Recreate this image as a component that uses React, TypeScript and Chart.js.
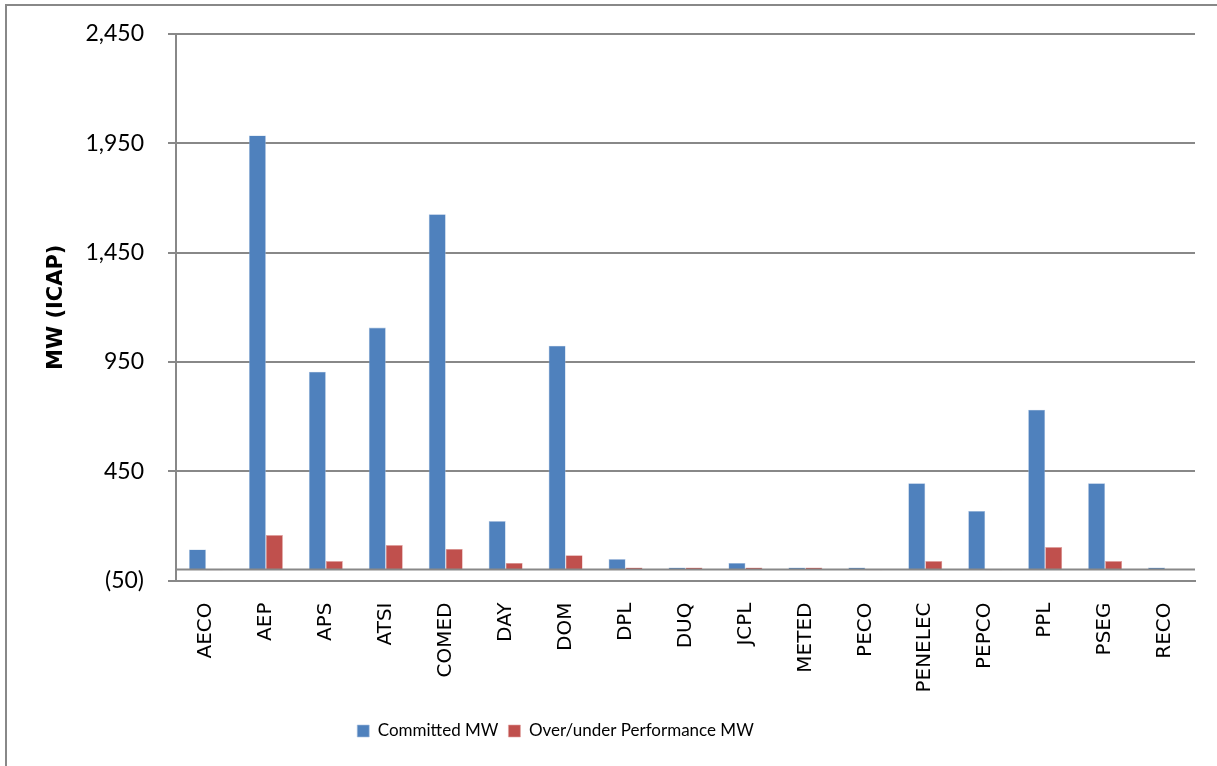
import React, { useEffect, useRef } from "react";
import { Chart, registerables } from "chart.js";

Chart.register(...registerables);

const categories = ["AECO", "AEP", "APS", "ATSI", "COMED", "DAY", "DOM", "DPL", "DUQ", "JCPL", "METED", "PECO", "PENELEC", "PEPCO", "PPL", "PSEG", "RECO"];
const committedMW = [92, 1986, 905, 1107, 1626, 222, 1024, 48, 10, 30, 10, 10, 395, 268, 731, 395, 10];
const overUnderMW = [-3, 158, 39, 112, 94, 30, 66, 10, 10, 10, 10, -3, 39, -3, 103, 39, -2];
const yTickValues = [-50, 450, 950, 1450, 1950, 2450];

const GRID = "#888888";

const fmt = (v: number) => {
  const s = Math.abs(v).toLocaleString("en-US");
  return v < 0 ? `(${s})` : s;
};

const decorPlugin = {
  id: "decor",
  beforeDraw(chart: any) {
    const ctx = chart.ctx;
    ctx.save();
    ctx.strokeStyle = GRID;
    ctx.lineWidth = 2;
    ctx.beginPath();
    ctx.moveTo(6, chart.height);
    ctx.lineTo(6, 5);
    ctx.lineTo(chart.width, 5);
    ctx.stroke();
    ctx.restore();
  },
  afterLayout(chart: any) {
    const lg = chart.legend;
    if (lg) {
      lg.left -= 42;
      lg.right -= 42;
    }
  },
  afterDatasetsDraw(chart: any) {
    const { ctx, chartArea, scales } = chart;
    const y0 = scales.y.getPixelForValue(0);
    ctx.save();
    ctx.strokeStyle = GRID;
    ctx.lineWidth = 2;
    ctx.beginPath();
    ctx.moveTo(chartArea.left, y0);
    ctx.lineTo(chartArea.right, y0);
    ctx.stroke();
    ctx.restore();
  },
};

export default function App() {
  const ref = useRef<HTMLCanvasElement | null>(null);
  useEffect(() => {
    if (!ref.current) return;
    const chart = new Chart(ref.current, {
      type: "bar",
      data: {
        labels: categories,
        datasets: [
          {
            label: "Committed MW",
            data: committedMW,
            backgroundColor: "#4F81BD",
            borderColor: "#A9C1E0",
            borderWidth: 0.6,
            categoryPercentage: 0.567,
            barPercentage: 1,
          },
          {
            label: "Over/under Performance MW",
            data: overUnderMW,
            backgroundColor: "#C0504D",
            borderColor: "#E2A3A1",
            borderWidth: 0.6,
            categoryPercentage: 0.567,
            barPercentage: 1,
          },
        ],
      },
      options: {
        animation: false,
        responsive: false,
        maintainAspectRatio: false,
        layout: { padding: { top: 34, right: 22, bottom: 16.5, left: 0 } },
        plugins: {
          tooltip: { enabled: false },
          legend: {
            position: "bottom",
            labels: {
              boxWidth: 12,
              boxHeight: 12,
              padding: 10,
              color: "#000",
              font: { family: "Lato", size: 17 },
            },
          },
        },
        scales: {
          x: {
            grid: { display: false, drawTicks: false },
            border: { display: true, color: GRID, width: 2 },
            ticks: {
              minRotation: 90,
              maxRotation: 90,
              padding: 22,
              color: "#000",
              font: { family: "DejaVu Sans", size: 20 },
              autoSkip: false,
            },
            afterFit: (s: any) => {
              s.height = 132;
            },
          },
          y: {
            min: -50,
            max: 2450,
            afterBuildTicks: (s: any) => {
              s.ticks = yTickValues.map((v) => ({ value: v }));
            },
            grid: { color: GRID, lineWidth: 2, drawTicks: true, tickLength: 8 },
            border: { display: true, color: GRID, width: 2 },
            ticks: {
              padding: 24,
              color: "#000",
              font: { family: "Lato", size: 23 },
              callback: (v: any) => fmt(Number(v)),
            },
            title: {
              display: true,
              text: "MW (ICAP)",
              color: "#000",
              font: { family: "DejaVu Sans", size: 21, weight: "bold" },
              padding: { top: 44, bottom: 0 },
            },
            afterFit: (s: any) => {
              s.width = 176;
              s.paddingTop = 0;
              s.paddingBottom = 0;
            },
          },
        },
      },
      plugins: [decorPlugin],
    });
    return () => chart.destroy();
  }, []);
  return (
    <div style={{ position: "fixed", left: 0, top: 0, width: 1217, height: 766, background: "#fff" }}>
      <canvas ref={ref} width={1217} height={766} style={{ width: 1217, height: 766 }} />
    </div>
  );
}
